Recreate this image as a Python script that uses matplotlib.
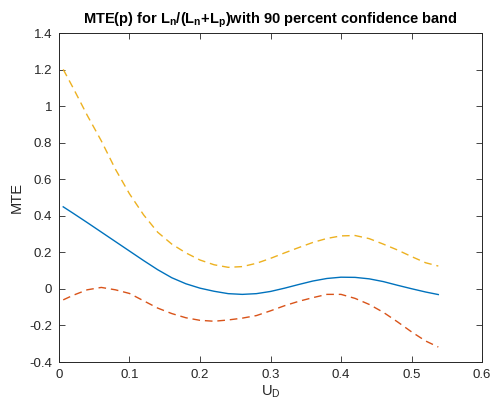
import matplotlib
matplotlib.use('Agg')
import matplotlib.pyplot as plt

# values
u_d = [0.006, 0.02, 0.04, 0.06, 0.08, 0.10, 0.12, 0.14, 0.16, 0.18, 0.20,
       0.22, 0.24, 0.26, 0.28, 0.30, 0.32, 0.34, 0.36, 0.38, 0.40, 0.42,
       0.44, 0.46, 0.48, 0.50, 0.52, 0.538]
mte = [0.449, 0.414, 0.363, 0.311, 0.259, 0.207, 0.155, 0.105, 0.061, 0.028,
       0.004, -0.013, -0.026, -0.030, -0.026, -0.014, 0.004, 0.024, 0.043,
       0.057, 0.064, 0.063, 0.055, 0.040, 0.020, 0.001, -0.017, -0.031]
upper = [1.201, 1.10, 0.95, 0.81, 0.655, 0.52, 0.405, 0.31, 0.245, 0.197, 0.158,
         0.132, 0.118, 0.122, 0.14, 0.167, 0.197, 0.226, 0.254, 0.276, 0.29,
         0.292, 0.275, 0.245, 0.213, 0.177, 0.143, 0.125]
lower = [-0.06, -0.035, -0.005, 0.008, -0.005, -0.025, -0.065, -0.105, -0.135,
         -0.158, -0.172, -0.177, -0.170, -0.160, -0.146, -0.120, -0.092, -0.068,
         -0.048, -0.030, -0.030, -0.052, -0.085, -0.128, -0.180, -0.235, -0.285,
         -0.318]

x_ticks = [0, 0.1, 0.2, 0.3, 0.4, 0.5, 0.6]
x_labels = ['0', '0.1', '0.2', '0.3', '0.4', '0.5', '0.6']
y_ticks = [-0.4, -0.2, 0, 0.2, 0.4, 0.6, 0.8, 1.0, 1.2, 1.4]
y_labels = ['-0.4', '-0.2', '0', '0.2', '0.4', '0.6', '0.8', '1', '1.2', '1.4']

plt.rcParams['font.family'] = ['Liberation Sans', 'DejaVu Sans']
axis_col = '#262626'

fig = plt.figure(figsize=(4.9, 4.09), dpi=100)
ax = fig.add_axes([0.1204, 0.1149, 0.8633, 0.8044])

ax.plot(u_d, mte, color='#0072BD', lw=1.0)
ax.plot(u_d, lower, color='#D95319', lw=1.0, dashes=(5.5, 3.5))
ax.plot(u_d, upper, color='#EDB120', lw=1.0, dashes=(5.5, 3.5))

ax.set_xlim(0, 0.6)
ax.set_ylim(-0.4, 1.4)
ax.set_xticks(x_ticks)
ax.set_xticklabels(x_labels)
ax.set_yticks(y_ticks)
ax.set_yticklabels(y_labels)
ax.tick_params(direction='in', top=True, right=True, length=4, width=0.6,
               colors=axis_col, labelsize=9.5, pad=5)
for s in ax.spines.values():
    s.set_color(axis_col)
    s.set_linewidth(0.7)

ax.set_xlabel(r'U$_\mathregular{D}$', fontsize=10.5, color=axis_col, labelpad=2)
ax.set_ylabel('MTE', fontsize=10.5, color=axis_col, labelpad=4)
ax.set_title(r'MTE(p) for L$_\mathregular{n}$/(L$_\mathregular{n}$+L$_\mathregular{p}$)with 90 percent confidence band',
             fontsize=10.5, fontweight='bold', pad=7)

fig.savefig('out.png', dpi=100)
